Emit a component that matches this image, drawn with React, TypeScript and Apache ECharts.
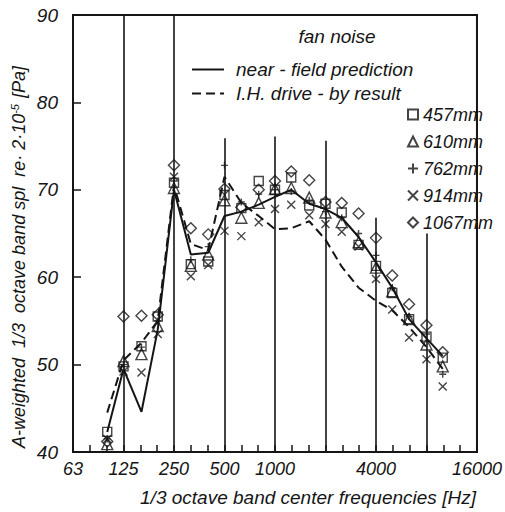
import React, { useEffect, useRef } from "react";
import * as echarts from "echarts";

// 1/3 octave band centre frequencies (Hz)
const bandsHz = [100, 125, 160, 200, 250, 315, 400, 500, 630, 800, 1000, 1250, 1600, 2000, 2500, 3150, 4000, 5000, 6300, 8000, 10000];

// axis tick labels (octaves from 63 Hz)
const xTickLabels = ["63", "125", "250", "500", "1000", "", "4000", "", "16000"];

// lines
const nearField = [42.3, 49.5, 44.6, 54.0, 70.0, 62.6, 62.8, 67.0, 67.5, 68.3, 69.2, 70.0, 68.4, 67.8, 66.8, 64.6, 61.7, 58.8, 55.2, 53.0, 51.0];
const driveBy = [44.5, 50.5, 52.5, 55.0, 70.5, 63.8, 63.1, 71.5, 68.5, 67.0, 65.5, 65.6, 66.4, 64.3, 61.2, 58.8, 57.3, 56.2, 54.3, 52.0, 49.5];

// measured points per microphone distance
const mic457 = [42.3, 49.8, 52.1, 55.5, 70.8, 61.5, 61.8, 69.4, 67.9, 71.0, 70.0, 71.4, 68.2, 68.4, 67.4, 63.7, 61.3, 58.2, 55.2, 53.2, 50.8];
const mic610 = [40.9, 50.4, 51.2, 54.4, 70.2, 61.3, 62.6, 68.8, 66.8, 68.5, 70.1, 70.2, 69.1, 67.4, 66.3, 64.0, 61.1, 58.4, 55.2, 52.3, 49.8];
const mic762 = [41.5, 50.0, 52.0, 55.0, 71.0, 62.0, 63.5, 72.8, 68.6, 69.5, 70.0, 69.8, 68.8, 67.5, 66.8, 65.0, 62.5, 58.8, 55.5, 53.5, 48.9];
const mic914 = [41.5, 49.2, 49.1, 53.5, 71.5, 60.1, 61.4, 65.3, 64.7, 66.3, 67.8, 68.3, 67.1, 66.1, 65.2, 63.5, 59.8, 56.3, 53.1, 50.6, 47.5];
const mic1067 = [41.2, 55.5, 55.6, 55.7, 72.8, 65.6, 64.9, 70.1, 68.0, 70.0, 71.0, 72.1, 71.1, 68.6, 68.5, 67.3, 64.5, 60.2, 56.9, 54.5, 51.4];

// octave grid lines: [octave index from 63 Hz, upper end in dB]
const gridLines: [number, number][] = [[1, 90], [2, 90], [3, 75.9], [4, 76.1], [5, 75.6], [6, 66.8], [7, 65.0]];

const FONT = '"Liberation Sans", "DejaVu Sans", sans-serif';
const INK = "#151515";

const oct = (f: number) => Math.log2(f / 62.5);
const pts = (vals: number[]) => bandsHz.map((f, i) => [oct(f), vals[i]]);

const hollow = { color: "rgba(0,0,0,0)", borderColor: INK, borderWidth: 1.4 };

export default function App() {
  const ref = useRef<HTMLDivElement>(null);
  useEffect(() => {
    if (!ref.current) return;
    const chart = echarts.init(ref.current, null, { renderer: "svg" });
    const txt = { fontFamily: FONT, fontStyle: "italic" as const, color: INK };
    const scatter = (name: string, vals: number[], symbol: string, size: number) => ({
      name,
      type: "scatter",
      data: pts(vals),
      symbol,
      symbolSize: size,
      itemStyle: hollow,
      z: 5,
    });
    chart.setOption({
      animation: false,
      backgroundColor: "#fff",
      grid: { left: 73, top: 15, right: 17, bottom: 59, show: true, borderColor: INK, borderWidth: 2 },
      xAxis: {
        type: "value",
        min: 0,
        max: 8,
        interval: 1,
        name: "1/3 octave band center frequencies [Hz]",
        nameLocation: "middle",
        nameGap: 36,
        nameTextStyle: { ...txt, fontSize: 19, padding: [0, 0, 0, 66] },
        axisLine: { lineStyle: { color: INK, width: 2 } },
        axisTick: { inside: true, length: 7, lineStyle: { color: INK, width: 1.5 } },
        minorTick: { show: true, splitNumber: 3, length: 7, lineStyle: { color: INK, width: 1.5 } },
        splitLine: { show: false },
        axisLabel: { ...txt, fontSize: 18, margin: 8, formatter: (v: number) => xTickLabels[Math.round(v)] ?? "" },
      },
      yAxis: {
        type: "value",
        min: 40,
        max: 90,
        interval: 10,
        axisLine: { lineStyle: { color: INK, width: 2 } },
        axisTick: { inside: true, length: 8, lineStyle: { color: INK, width: 1.5 } },
        splitLine: { show: false },
        axisLabel: { ...txt, fontSize: 19, margin: 15 },
      },
      legend: [
        {
          data: ["near - field prediction", "I.H. drive - by result"],
          orient: "vertical",
          left: 186,
          top: 55,
          itemWidth: 32,
          itemHeight: 14,
          itemGap: 5,
          selectedMode: false,
          itemStyle: { opacity: 0 },
          textStyle: { ...txt, fontSize: 19, lineHeight: 16, padding: [0, 0, 0, 7] },
        },
        {
          data: ["457mm", "610mm", "762mm", "914mm", "1067mm"],
          orient: "vertical",
          left: 402,
          top: 99,
          itemWidth: 10,
          itemHeight: 10,
          itemGap: 6,
          selectedMode: false,
          textStyle: { ...txt, fontSize: 18, lineHeight: 21 },
        },
      ],
      graphic: [
        {
          type: "text",
          x: 337,
          y: 36,
          style: { text: "fan noise", font: `italic 19px ${FONT}`, fill: INK, align: "center", verticalAlign: "middle" },
        },
        {
          type: "text",
          x: 19,
          y: 257,
          rotation: Math.PI / 2,
          style: {
            text: "A-weighted  1/3  octave band spl  re· 2·10{sup|-5} [Pa]",
            font: `italic 18px ${FONT}`,
            fill: INK,
            align: "center",
            verticalAlign: "middle",
            rich: { sup: { fontSize: 11, fontStyle: "italic", fontFamily: FONT, fill: INK, verticalAlign: "top", padding: [0, 1, 8, 0] } },
          },
        },
      ],
      series: [
        {
          name: "grid",
          type: "line",
          data: [[0, 40]],
          showSymbol: false,
          symbol: "none",
          lineStyle: { opacity: 0 },
          silent: true,
          markLine: {
            silent: true,
            symbol: ["none", "none"],
            label: { show: false },
            lineStyle: { color: INK, width: 1.6, type: "solid" },
            data: gridLines.map(([x, top]) => [{ coord: [x, 40] }, { coord: [x, top] }]),
          },
        },
        {
          name: "near - field prediction",
          type: "line",
          data: pts(nearField),
          symbol: "none",
          lineStyle: { color: INK, width: 2 },
          itemStyle: { color: INK },
          z: 3,
        },
        {
          name: "I.H. drive - by result",
          type: "line",
          data: pts(driveBy),
          symbol: "none",
          lineStyle: { color: INK, width: 2, type: [9, 5] },
          itemStyle: { color: INK },
          z: 3,
        },
        scatter("457mm", mic457, "rect", 9),
        scatter("610mm", mic610, "triangle", 11),
        scatter("762mm", mic762, "path://M5,0V10M0,5H10", 7),
        scatter("914mm", mic914, "path://M0,0L10,10M0,10L10,0", 8),
        scatter("1067mm", mic1067, "diamond", 11),
      ],
    });
    return () => chart.dispose();
  }, []);
  return <div ref={ref} style={{ width: 505, height: 512, position: "absolute", left: 0, top: 0 }} />;
}
